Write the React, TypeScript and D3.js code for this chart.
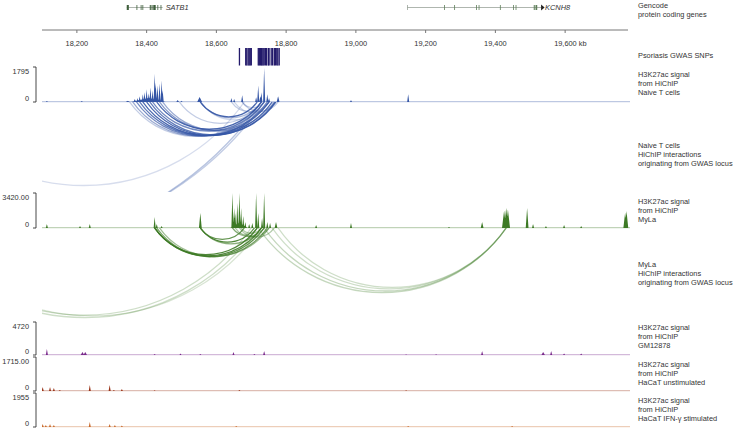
import React from "react";
import * as d3 from "d3";

const W = 736;
const H = 429;
const DOMAIN_KB: [number, number] = [18100, 19786];
const tickValues = [18200, 18400, 18600, 18800, 19000, 19200, 19400, 19600];

// genes (kb)
const satb1Span: [number, number] = [18343, 18446];
const satb1Exons: [number, number][] = [
  [18343, 18349], [18371, 18372], [18383, 18384], [18388, 18389], [18409, 18412],
  [18414, 18417], [18419, 18426], [18431, 18432], [18440, 18441],
];
const kcnh8Span: [number, number] = [19147, 19531];
const kcnh8Exons: [number, number][] = [
  [19147, 19148], [19253, 19254], [19282, 19283], [19345, 19346], [19352, 19353],
  [19413, 19414], [19451, 19452], [19458, 19459], [19510, 19513], [19515, 19520],
];

// Psoriasis GWAS SNP positions (kb)
const gwasSnps = [
  18666, 18684, 18687, 18691, 18694, 18697, 18700, 18720, 18723, 18726, 18729, 18731,
  18734, 18737, 18741, 18744, 18749, 18751, 18757, 18761, 18766, 18769, 18773, 18776, 18780,
];

// peaks: [center kb, value, half-width kb]
const naivePeaks: [number, number, number][] = [
  [18114, 50, 3], [18214, 50, 3], [18346, 60, 6], [18405, 200, 50],
  [18366, 150, 4], [18374, 200, 3], [18380, 300, 3], [18389, 400, 3], [18394, 500, 3],
  [18400, 650, 3], [18406, 450, 3], [18411, 750, 3], [18417, 600, 3], [18423, 1450, 3],
  [18426, 1000, 3], [18431, 850, 3], [18437, 950, 3], [18443, 1100, 3], [18446, 600, 3],
  [18489, 100, 4], [18500, 60, 3], [18552, 260, 7], [18643, 200, 3], [18651, 150, 3],
  [18674, 350, 3], [18714, 250, 3], [18720, 850, 3], [18726, 300, 3], [18729, 500, 3],
  [18737, 1750, 3], [18746, 400, 3], [18751, 200, 3], [18777, 300, 4], [18986, 100, 3],
  [19150, 400, 3],
];
const mylaPeaks: [number, number, number][] = [
  [18114, 390, 3], [18209, 195, 3], [18237, 390, 3], [18423, 1075, 3], [18429, 390, 3],
  [18443, 195, 3], [18554, 1470, 4], [18665, 500, 25],
  [18646, 3420, 3], [18651, 1950, 3], [18654, 1470, 3], [18660, 2440, 3], [18666, 3420, 3],
  [18671, 1950, 3], [18677, 1170, 3], [18683, 590, 3], [18694, 390, 3], [18703, 490, 3],
  [18714, 3420, 3], [18720, 1470, 3], [18731, 980, 3], [18737, 3420, 3], [18746, 590, 3],
  [18754, 490, 3], [18771, 590, 4], [18886, 290, 3], [18986, 490, 3], [19267, 100, 3],
  [19362, 590, 4], [19425, 1700, 6], [19431, 1950, 6], [19436, 1800, 6], [19491, 1950, 4],
  [19508, 390, 3], [19545, 195, 3], [19597, 290, 3], [19646, 195, 3], [19772, 1500, 5],
  [19776, 1660, 5],
];
const gmPeaks: [number, number, number][] = [
  [18114, 860, 3], [18216, 430, 5], [18224, 430, 5], [18423, 140, 3], [18497, 215, 3],
  [18554, 140, 3], [18649, 430, 3], [18709, 140, 3], [18737, 570, 3], [19144, 70, 3],
  [19230, 100, 3], [19362, 570, 3], [19537, 430, 5], [19560, 570, 3], [19597, 215, 3],
  [19646, 215, 3],
];
const hacatPeaks: [number, number, number][] = [
  [18102, 200, 3], [18123, 200, 3], [18134, 150, 3], [18151, 50, 3], [18237, 300, 3],
  [18294, 300, 3], [18306, 50, 3], [18329, 100, 3], [18423, 35, 3], [18666, 50, 3],
  [19144, 35, 3],
];
const ifnPeaks: [number, number, number][] = [
  [18102, 170, 3], [18111, 115, 3], [18123, 170, 3], [18134, 115, 3], [18237, 290, 3],
  [18294, 170, 3], [18309, 115, 3], [18329, 85, 3], [18657, 57, 3], [19150, 57, 3],
  [19448, 57, 3],
];

// interactions: [left kb, right kb, strength]
const naiveArcs: [number, number, number][] = [
  [18351, 18729, 0.3], [18360, 18737, 0.5], [18371, 18746, 0.7], [18380, 18751, 0.8],
  [18389, 18760, 0.9], [18400, 18769, 0.9], [18409, 18771, 0.8], [18417, 18737, 0.7],
  [18429, 18729, 0.9], [18437, 18751, 0.6], [18446, 18766, 0.5], [18494, 18729, 0.3],
  [18554, 18717, 0.9], [18554, 18729, 0.4], [18554, 18751, 0.25], [18643, 18751, 0.3],
  [18651, 18769, 0.25], [18674, 18737, 0.3], [18674, 18777, 0.3], [17760, 18680, 0.2],
  [17120, 18729, 0.35], [17180, 18737, 0.3],
];
const mylaArcs: [number, number, number][] = [
  [18423, 18717, 0.9], [18423, 18729, 0.9], [18423, 18737, 0.8], [18429, 18746, 0.7],
  [18437, 18751, 0.5], [18554, 18680, 0.8], [18554, 18709, 0.9], [18554, 18729, 0.6],
  [18646, 18737, 0.5], [18654, 18751, 0.4], [18666, 18766, 0.4], [18671, 18729, 0.4],
  [18646, 18717, 0.3], [17740, 18700, 0.25], [17730, 18717, 0.25], [17760, 18729, 0.2],
  [18720, 19431, 0.3], [18737, 19431, 0.3], [18760, 19431, 0.25], [18777, 19431, 0.25],
];

const FONT = "'Liberation Sans', Arial, Helvetica, sans-serif";
const FS = 7.4;
const TEXT = "#333";

const x = d3.scaleLinear().domain(DOMAIN_KB).range([42, 630]);
const THETA = (55 * Math.PI) / 180;

function signal(peaks: [number, number, number][]) {
  const pts: [number, number][] = [];
  for (let k = DOMAIN_KB[0]; k <= DOMAIN_KB[1]; k += 0.5) {
    let v = 0;
    for (const [c, h, w] of peaks) {
      const d = Math.abs(k - c);
      if (d < w) v = Math.max(v, h * (1 - d / w));
    }
    pts.push([k, v]);
  }
  return pts;
}

function arcPath(a: number, b: number, base: number) {
  const x1 = x(a);
  const x2 = x(b);
  const half = (x2 - x1) / 2;
  const R = half / Math.sin(THETA);
  return `M${x1},${base} A${R},${R} 0 0 0 ${x2},${base}`;
}

type Track = {
  peaks: [number, number, number][];
  max: number;
  maxLabel: string;
  top: number;
  base: number;
  color: string;
  labels: string[];
  labelY: number;
};

const tracks: Track[] = [
  { peaks: naivePeaks, max: 1795, maxLabel: "1795", top: 67, base: 102, color: "#3556a6", labels: ["H3K27ac signal", "from HiChIP", "Naive T cells"], labelY: 74 },
  { peaks: mylaPeaks, max: 3420, maxLabel: "3420.00", top: 193, base: 228, color: "#3d7a25", labels: ["H3K27ac signal", "from HiChIP", "MyLa"], labelY: 201 },
  { peaks: gmPeaks, max: 4720, maxLabel: "4720", top: 322, base: 355, color: "#7a2a8c", labels: ["H3K27ac signal", "from HiChIP", "GM12878"], labelY: 327 },
  { peaks: hacatPeaks, max: 1715, maxLabel: "1715.00", top: 357, base: 391, color: "#9a3418", labels: ["H3K27ac signal", "from HiChIP", "HaCaT unstimulated"], labelY: 364 },
  { peaks: ifnPeaks, max: 1955, maxLabel: "1955", top: 393, base: 427, color: "#c8692a", labels: ["H3K27ac signal", "from HiChIP", "HaCaT IFN-γ stimulated"], labelY: 400 },
];

const arcPanels = [
  { arcs: naiveArcs, base: 102, bottom: 192, color: "#3556a6", labels: ["Naive T cells", "HiChIP interactions", "originating from GWAS locus"], labelY: 145 },
  { arcs: mylaArcs, base: 228, bottom: 320, color: "#3d7a25", labels: ["MyLa", "HiChIP interactions", "originating from GWAS locus"], labelY: 264 },
];

function Labels({ lines, y0 }: { lines: string[]; y0: number }) {
  return (
    <g>
      {lines.map((t, i) => (
        <text key={i} x={638} y={y0 + i * 9} dy="0.35em" fontSize={FS} fill={TEXT} fontFamily={FONT}>
          {t}
        </text>
      ))}
    </g>
  );
}

function Gene({ span, exons, label, y }: { span: [number, number]; exons: [number, number][]; label: string; y: number }) {
  return (
    <g>
      <line x1={x(span[0])} x2={x(span[1])} y1={y} y2={y} stroke="#9aa39a" strokeWidth={0.8} />
      {exons.map(([a, b], i) => (
        <rect key={i} x={x(a)} y={y - 2.5} width={Math.max(0.8, x(b) - x(a))} height={5} fill="#3f5f3c" />
      ))}
      <text x={x(span[1]) + 3} y={y} dy="0.35em" fontSize={FS} fontStyle="italic" fill={TEXT} fontFamily={FONT}>
        {label}
      </text>
    </g>
  );
}

export default function App() {
  const area = (t: Track) => {
    const y = d3.scaleLinear().domain([0, t.max]).range([t.base, t.top]).clamp(true);
    return d3
      .area<[number, number]>()
      .x((d) => x(d[0]))
      .y0(t.base)
      .y1((d) => y(d[1]))(signal(t.peaks)) as string;
  };

  const fmt = d3.format(",");

  return (
    <svg width={W} height={H} style={{ position: "absolute", left: 0, top: 0, background: "#fff" }}>
      <defs>
        {arcPanels.map((p, i) => (
          <clipPath id={`clip${i}`} key={i}>
            <rect x={42} y={p.base} width={588} height={p.bottom - p.base} />
          </clipPath>
        ))}
      </defs>

      {/* genes */}
      <Gene span={satb1Span} exons={satb1Exons} label="SATB1" y={7.5} />
      <line x1={x(kcnh8Span[0])} x2={x(kcnh8Span[1])} y1={7.5} y2={7.5} stroke="#9aa39a" strokeWidth={0.8} />
      {kcnh8Exons.map(([a, b], i) => (
        <rect key={i} x={x(a)} y={5} width={Math.max(0.8, x(b) - x(a))} height={5} fill={i === 0 ? "#9aa39a" : "#5f7f5a"} />
      ))}
      <path d={`M${x(kcnh8Span[1])},4.5 L${x(kcnh8Span[1]) + 3.5},7.5 L${x(kcnh8Span[1])},10.5 Z`} fill="#222" />
      <text x={x(kcnh8Span[1]) + 4} y={7.5} dy="0.35em" fontSize={FS} fontStyle="italic" fill={TEXT} fontFamily={FONT}>
        KCNH8
      </text>
      <Labels lines={["Gencode", "protein coding genes"]} y0={5} />

      {/* axis */}
      <line x1={42} x2={628} y1={30} y2={30} stroke="#777" strokeWidth={1} />
      {tickValues.map((t, i) => (
        <g key={t}>
          <line x1={x(t)} x2={x(t)} y1={30} y2={33} stroke="#777" />
          <text x={x(t)} y={43} dy="0.35em" textAnchor={i === tickValues.length - 1 ? "start" : "middle"} dx={i === tickValues.length - 1 ? -11 : 0} fontSize={FS} fill={TEXT} fontFamily={FONT}>
            {fmt(t) + (i === tickValues.length - 1 ? " kb" : "")}
          </text>
        </g>
      ))}

      {/* GWAS SNPs */}
      {gwasSnps.map((s, i) => (
        <rect key={i} x={x(s) - 0.6} y={48} width={1.3} height={17.5} fill="#231a6b" />
      ))}
      <Labels lines={["Psoriasis GWAS SNPs"]} y0={55} />

      {/* signal tracks */}
      {tracks.map((t, i) => (
        <g key={i}>
          <line x1={42} x2={630} y1={t.base - 0.3} y2={t.base - 0.3} stroke={t.color} strokeOpacity={0.45} strokeWidth={0.9} />
          <path d={area(t)} fill={t.color} />
          <path d={`M33,${t.top} H36 V${t.base} H33`} fill="none" stroke="#333" strokeWidth={0.9} />
          <text x={29} y={t.top + 4} dy="0.35em" textAnchor="end" fontSize={FS} fill={TEXT} fontFamily={FONT}>
            {t.maxLabel}
          </text>
          <text x={29} y={t.base - 3.5} dy="0.35em" textAnchor="end" fontSize={FS} fill={TEXT} fontFamily={FONT}>
            0
          </text>
          <Labels lines={t.labels} y0={t.labelY} />
        </g>
      ))}

      {/* arcs */}
      {arcPanels.map((p, i) => (
        <g key={i}>
          <g clipPath={`url(#clip${i})`}>
            {p.arcs.map(([a, b, s], j) => (
              <path key={j} d={arcPath(a, b, p.base)} fill="none" stroke={p.color} strokeOpacity={s} strokeWidth={1.3} />
            ))}
          </g>
          <Labels lines={p.labels} y0={p.labelY} />
        </g>
      ))}
    </svg>
  );
}
